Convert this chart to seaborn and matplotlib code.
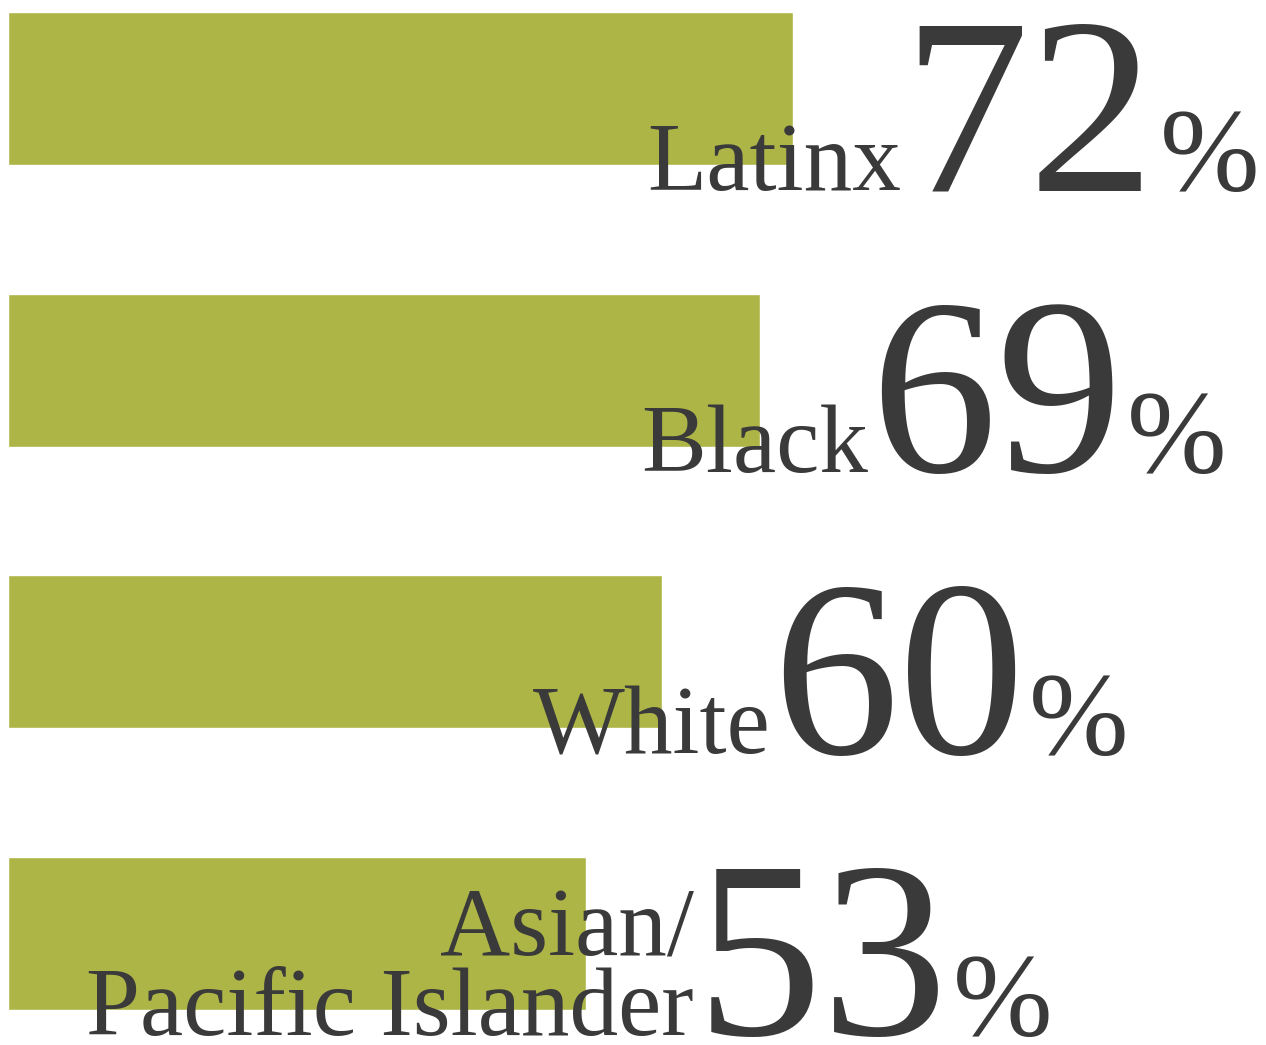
import matplotlib
matplotlib.use("Agg")
import matplotlib.pyplot as plt
import seaborn as sns
import pandas as pd

groups = ["Latinx", "Black", "White", "Asian/\nPacific Islander"]
shares = [72, 69, 60, 53]

bar_color = "#adb547"
text_color = "#3a3a3a"

df = pd.DataFrame({"group": groups, "share": shares})

sns.set_style("white")
plt.rcParams["font.family"] = ["Liberation Serif", "DejaVu Serif"]

fig = plt.figure(figsize=(12.66, 10.45), dpi=100)
ax = fig.add_axes([0, 0, 1, 1])

sns.barplot(data=df, x="share", y="group", orient="h", color=bar_color,
            width=0.543, saturation=1, ax=ax)

ax.set_xlim(-0.734, 115.4)
ax.set_ylim(3.396, -0.314)
ax.set_axis_off()

# text sits on the baseline below each bar, numbers start a bit right of bar end
for i, (g, v) in enumerate(zip(groups, shares)):
    base = i + 0.362
    num = ax.annotate(str(v), xy=(v, base), xytext=(79, 0), textcoords="offset points",
                      fontsize=182, color=text_color, ha="left", va="baseline")
    ax.annotate(g, xy=(0, base), xycoords=(num, "data"), xytext=(-1, 0),
                textcoords="offset points", fontsize=70, color=text_color,
                ha="right", va="baseline", multialignment="right", linespacing=0.88)
    ax.annotate("%", xy=(1, base), xycoords=(num, "data"), xytext=(3, 0),
                textcoords="offset points", fontsize=86, color=text_color,
                ha="left", va="baseline")

fig.savefig("out.png", dpi=100)
